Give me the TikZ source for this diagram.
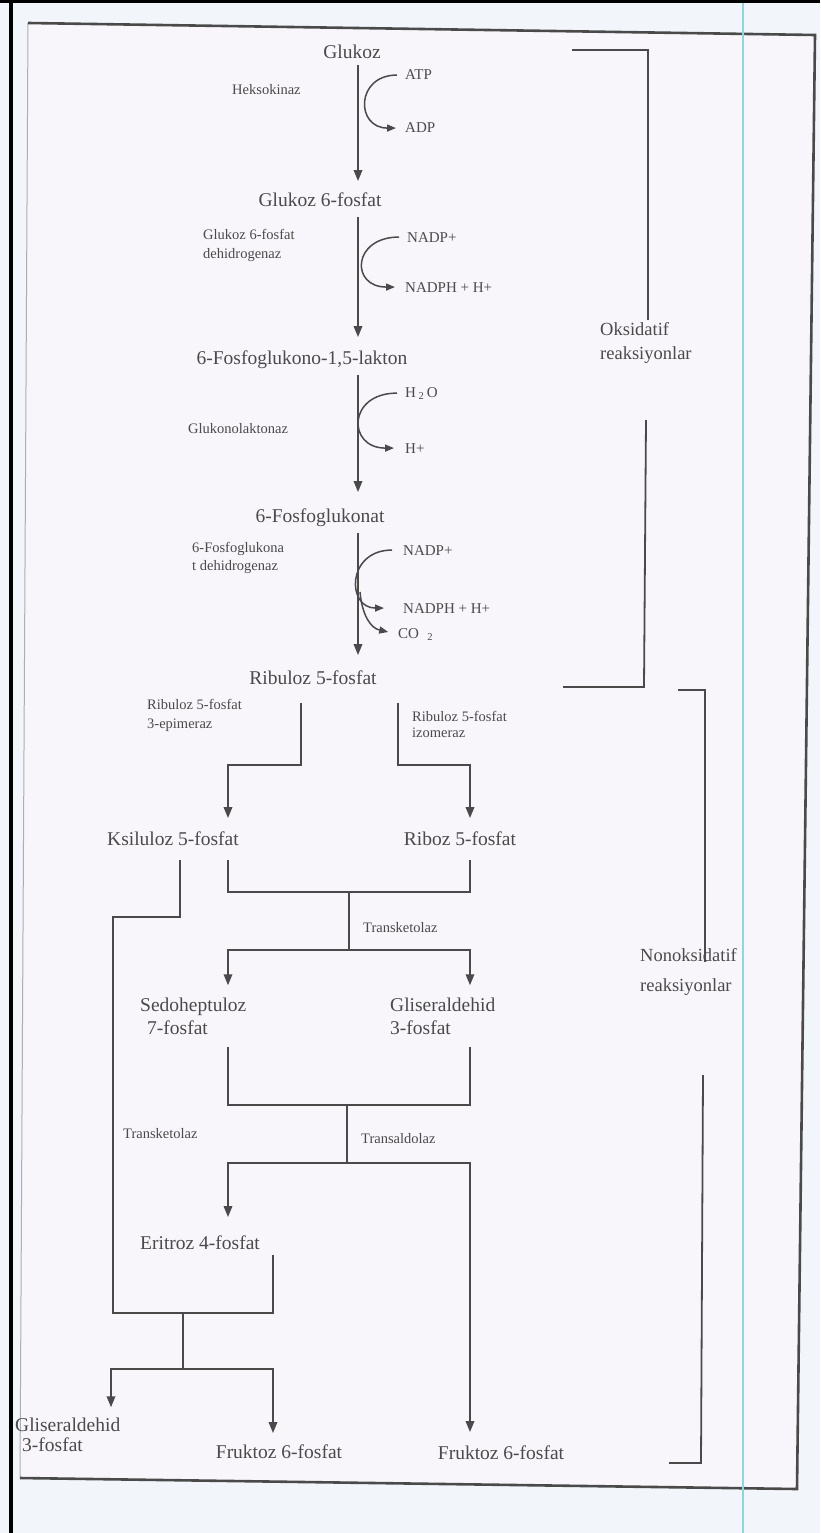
\documentclass[tikz,border=0pt]{standalone}
\usepackage{fontspec}
\setmainfont{Liberation Serif}
\usetikzlibrary{arrows.meta,positioning}
\definecolor{ink}{HTML}{4A4A4A}
\definecolor{paper}{HTML}{F8F6FB}
\definecolor{scanbg}{HTML}{F2F5F9}
\definecolor{guide}{HTML}{8ED6E2}

\begin{document}
\begin{tikzpicture}[x=1pt,y=-1pt,
  cmp/.style={font=\fontsize{19.5}{23}\selectfont,text=ink,inner sep=0pt,anchor=base},
  enz/.style={font=\fontsize{14.5}{19}\selectfont,text=ink,inner sep=0pt,anchor=base west,align=left},
  cof/.style={font=\fontsize{15}{18}\selectfont,text=ink,inner sep=0pt,anchor=base west},
  grp/.style={font=\fontsize{18.5}{24}\selectfont,text=ink,inner sep=0pt,anchor=base west,align=left},
  ln/.style={draw=ink,line width=1.8pt},
  arr/.style={ln,-{Triangle[length=11pt,width=8.5pt]}},
  side/.style={draw=ink,line width=1.5pt,-{Triangle[length=9pt,width=7pt]}}]
% scanned page
\fill[scanbg] (0,0) rectangle (820,1533);
\useasboundingbox (0,0) rectangle (820,1533);
\fill[paper] (28,23) -- (815,35) -- (797,1489) -- (20,1478) -- cycle;
\draw[ink!45,line width=1pt] (28,23) -- (20,1478);
\draw[ink,line width=2.6pt] (28,23) -- (815,35) -- (797,1489) -- (20,1478);
\draw[guide,line width=2pt] (743,0) -- (743,1533);
\draw[black,line width=4pt] (11,0) -- (11,1533) (0,1.5) -- (820,1.5);

% columns
\coordinate (ax) at (358,0);
\coordinate (cL) at (228,0);
\coordinate (cR) at (470,0);
\coordinate (cA) at (111,0);
\coordinate (cB) at (273,0);

% compounds
\node[cmp] (glc) at (352,59) {Glukoz};
\node[cmp] (g6p) at (320,207) {Glukoz 6-fosfat};
\node[cmp] (lak) at (302,364) {6-Fosfoglukono-1,5-lakton};
\node[cmp] (fgk) at (320,522) {6-Fosfoglukonat};
\node[cmp] (ru5p) at (313,684) {Ribuloz 5-fosfat};
\node[cmp] (xu5p) at (173,845) {Ksiluloz 5-fosfat};
\node[cmp] (r5p) at (460,845) {Riboz 5-fosfat};
\node[cmp,anchor=base west,align=left] (s7p) at (140,1034) {Sedoheptuloz\\\hspace{7pt}7-fosfat};
\node[cmp,anchor=base west,align=left] (ga3p) at (390,1034) {Gliseraldehid\\3-fosfat};
\node[cmp] (e4p) at (200,1249) {Eritroz 4-fosfat};
\node[cmp,anchor=base west,align=left] (ga3pb) at (15,1451) {Gliseraldehid\\[-3pt]\hspace{7pt}3-fosfat};
\node[cmp] (f6pa) at (279,1458) {Fruktoz 6-fosfat};
\node[cmp] (f6pb) at (501,1459) {Fruktoz 6-fosfat};

% enzymes
\node[enz] (hk) at (232,95) {Heksokinaz};
\node[enz] (g6pd) at (203,258) {Glukoz 6-fosfat\\dehidrogenaz};
\node[enz] (gl) at (188,433) {Glukonolaktonaz};
\node[enz] (pgd) at (192,570) {6-Fosfoglukona\\[-1pt]t dehidrogenaz};
\node[enz] (epi) at (147,728) {Ribuloz 5-fosfat\\3-epimeraz};
\node[enz] (iso) at (412,737) {Ribuloz 5-fosfat\\[-3pt]izomeraz};
\node[enz] (tk1) at (363,932) {Transketolaz};
\node[enz] (tk2) at (123,1138) {Transketolaz};
\node[enz] (ta) at (361,1143) {Transaldolaz};

% cofactors
\node[cof] (atp) at (405,80) {ATP};
\node[cof] (adp) at (405,133) {ADP};
\node[cof] (nadp1) at (407,242) {NADP+};
\node[cof] (nadph1) at (405,292) {NADPH + H+};
\node[cof] (h2o) at (405,397) {H\,\textsubscript{2}\,O};
\node[cof] (hp) at (405,453) {H+};
\node[cof] (nadp2) at (403,555) {NADP+};
\node[cof] (nadph2) at (403,613) {NADPH + H+};
\node[cof] (co2) at (398,638) {CO\;\;\textsubscript{2}};

% groups
\node[grp,font=\fontsize{18.5}{24}\selectfont] (oks) at (600,359) {Oksidatif\\reaksiyonlar};
\node[grp,font=\fontsize{18.5}{30}\selectfont] (nonoks) at (640,991) {Nonoksidatif\\reaksiyonlar};

% oxidative chain
\draw[arr,shorten <=6pt,shorten >=12pt] (glc.south -| ax) -- (g6p.north -| ax);
\draw[arr,shorten <=10pt,shorten >=13pt] (g6p.south -| ax) -- (lak.north -| ax);
\draw[arr,shorten <=7pt,shorten >=16pt] (lak.south -| ax) -- (fgk.north -| ax);
\draw[arr,shorten <=7pt,shorten >=15pt] (fgk.south -| ax) -- (ru5p.north -| ax);

\draw[side,shorten <=8pt,shorten >=9pt] (atp.west) to[out=180,in=180,looseness=2.4] (adp.west);
\draw[side,shorten <=8pt,shorten >=10pt] (nadp1.west) to[out=180,in=180,looseness=2.8] (nadph1.west);
\draw[side,shorten <=8pt,shorten >=11pt] (h2o.west) to[out=180,in=180,looseness=2.7] (hp.west);
\draw[side,shorten <=11pt,shorten >=19pt] (nadp2.west) to[out=180,in=180,looseness=2.5] (nadph2.west);
\draw[side,shorten >=10pt] (360,592) .. controls (362,614) and (370,628) .. (co2.west);

% ribuloz split
\coordinate (jl) at (301,765);
\coordinate (jr) at (398,765);
\draw[arr,shorten <=19pt,shorten >=13pt] (ru5p.south -| jl) -- (jl) -| (xu5p.north -| cL);
\draw[arr,shorten <=19pt,shorten >=13pt] (ru5p.south -| jr) -- (jr) -| (r5p.north -| cR);

% transketolaz
\coordinate (m1) at (349,892);
\coordinate (m2) at (349,950);
\draw[ln,shorten <=15pt,shorten >=15pt] (xu5p.south -| cL) |- (m1) -| (r5p.south -| cR);
\draw[ln] (m1) -- (m2);
\draw[arr,shorten >=12pt] (m2) -| (s7p.north -| cL);
\draw[arr,shorten >=12pt] (m2) -| (ga3p.north -| cR);

% transaldolaz
\coordinate (m3) at (347,1105);
\coordinate (m4) at (347,1163);
\draw[ln,shorten <=13pt,shorten >=13pt] (s7p.south -| cL) |- (m3) -| (ga3p.south -| cR);
\draw[ln] (m3) -- (m4);
\draw[arr,shorten >=18pt] (m4) -| (e4p.north -| cL);
\draw[arr,shorten >=13pt] (m4) -| (f6pb.north -| cR);

% second transketolaz
\coordinate (kl) at (180,917);
\coordinate (bx) at (113,1313);
\coordinate (b1) at (183,1313);
\coordinate (b2) at (183,1369);
\draw[ln,shorten <=15pt,shorten >=6pt] (xu5p.south -| kl) -- (kl) -| (bx) -| (e4p.south -| cB);
\draw[ln] (b1) -- (b2);
\draw[arr,shorten >=10pt] (b2) -| (ga3pb.north -| cA);
\draw[arr,shorten >=11pt] (b2) -| (f6pa.north -| cB);

% brackets
\draw[ln] (572,50) -- (648,50) -- (648,320);
\draw[ln] (646,420) -- (644,687) -- (563,687);
\draw[ln] (678,690) -- (705,690) -- (705,962);
\draw[ln] (703,1075) -- (701,1463) -- (669,1463);
\end{tikzpicture}
\end{document}
